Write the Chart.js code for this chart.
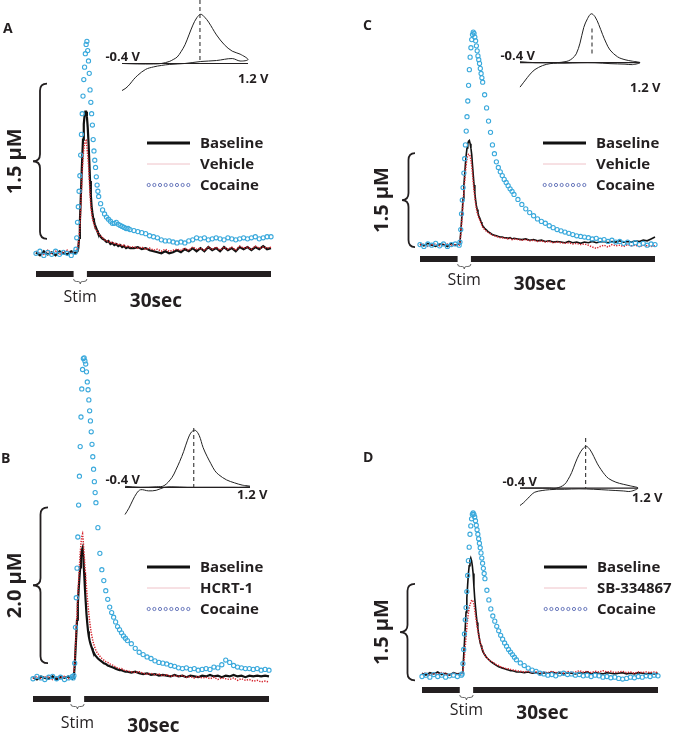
<!DOCTYPE html>
<html>
<head>
<meta charset="utf-8">
<script src="https://cdn.jsdelivr.net/npm/chart.js@4.4.1/dist/chart.umd.min.js"></script>
<style>
  html, body { margin: 0; padding: 0; background: #fff; }
  #fig { position: relative; width: 679px; height: 738px; overflow: hidden; background: #fff; }
  #fig canvas { position: absolute; }
</style>
</head>
<body>
<div id="fig"></div>
<script>
// time base in seconds, denser around the stimulation
const time = [
  0, 0.5, 1, 1.5, 2, 2.5, 3, 3.5, 4, 4.5, 5,
  5.1, 5.2, 5.3, 5.4, 5.5, 5.6, 5.7, 5.8, 5.9, 6, 6.1, 6.2, 6.3, 6.4, 6.5, 6.6, 6.7, 6.8, 6.9, 7, 7.1, 7.2, 7.3, 7.4, 7.5, 7.6, 7.7, 7.8, 7.9, 8,
  8.25, 8.5, 8.75, 9, 9.25, 9.5, 9.75, 10, 10.25, 10.5, 10.75, 11, 11.25, 11.5, 11.75, 12,
  12.5, 13, 13.5, 14, 14.5, 15, 15.5, 16, 16.5, 17, 17.5, 18, 18.5, 19, 19.5, 20, 20.5, 21,
  21.5, 22, 22.5, 23, 23.5, 24, 24.5, 25, 25.5, 26, 26.5, 27, 27.5, 28, 28.5, 29, 29.5, 30
];
const stimStart = 4.8;
const stimEnd = 6.5;
const barEnd = 30;

// dopamine concentration (uM) -- panel A
const baselineA = [
  0.01, -0.02, 0.02, -0.01, 0.01, -0.02, 0.02, 0, -0.01, 0.02, 0,
  0, 0.01, 0.02, 0.05, 0.15, 0.3, 0.5, 0.72, 0.92, 1.1, 1.25, 1.33, 1.37, 1.37, 1.32, 1.22, 1.08, 0.9, 0.7, 0.56, 0.45, 0.39, 0.34, 0.31, 0.28, 0.26, 0.24, 0.22, 0.2, 0.19,
  0.16, 0.14, 0.13, 0.11, 0.12, 0.09, 0.1, 0.08, 0.09, 0.07, 0.08, 0.06, 0.07, 0.05, 0.06, 0.05,
  0.05, 0.06, 0.04, 0.05, 0.03, 0.02, 0.01, 0, 0.02, 0, 0.01, 0.03, 0.01, 0.04, 0.02, 0.05, 0.02, 0.05,
  0.02, 0.06, 0.03, 0.05, 0.02, 0.06, 0.03, 0.05, 0.02, 0.06, 0.04, 0.06, 0.03, 0.06, 0.04, 0.07, 0.04, 0.05
];
const vehicleA = [
  0.02, 0, -0.01, 0.03, 0, 0.02, -0.01, 0.01, 0.03, 0, 0.02,
  0.02, 0.03, 0.05, 0.08, 0.15, 0.25, 0.42, 0.6, 0.78, 0.92, 1.01, 1.06, 1.08, 1.09, 1.03, 0.95, 0.86, 0.72, 0.57, 0.46, 0.39, 0.34, 0.31, 0.28, 0.26, 0.24, 0.23, 0.21, 0.2, 0.19,
  0.17, 0.15, 0.13, 0.12, 0.12, 0.1, 0.11, 0.09, 0.1, 0.08, 0.09, 0.07, 0.08, 0.06, 0.07, 0.06,
  0.06, 0.05, 0.06, 0.04, 0.05, 0.03, 0.04, 0.02, 0.04, 0.02, 0.03, 0.04, 0.03, 0.05, 0.03, 0.06, 0.04, 0.05,
  0.03, 0.06, 0.04, 0.06, 0.03, 0.06, 0.04, 0.06, 0.03, 0.07, 0.05, 0.06, 0.04, 0.07, 0.05, 0.06, 0.05, 0.06
];
const cocaineA = [
  0, 0.02, -0.02, 0.01, -0.01, 0.02, -0.01, 0.01, 0, -0.02, 0.01,
  0.04, 0.15, 0.3, 0.45, 0.6, 0.75, 0.95, 1.15, 1.35, 1.52, 1.68, 1.8, 1.93, 2.02, 2.05, 1.96, 1.86, 1.74, 1.58, 1.46, 1.35, 1.24, 1.1, 0.99, 0.9, 0.83, 0.74, 0.66, 0.6, 0.55,
  0.48, 0.42, 0.38, 0.35, 0.33, 0.31, 0.29, 0.29, 0.3, 0.28, 0.27, 0.26, 0.25, 0.24, 0.24, 0.23,
  0.22, 0.21, 0.2, 0.19, 0.17, 0.16, 0.15, 0.13, 0.12, 0.12, 0.11, 0.1, 0.11, 0.1, 0.12, 0.13, 0.15, 0.14,
  0.15, 0.13, 0.14, 0.15, 0.14, 0.13, 0.15, 0.14, 0.13, 0.14, 0.15, 0.14, 0.15, 0.16, 0.14, 0.15, 0.16, 0.16
];

// panel B
const baselineB = [
  0.01, -0.02, 0.02, 0, -0.01, 0.02, -0.02, 0.01, 0, 0.02, -0.01,
  0, 0.03, 0.15, 0.35, 0.55, 0.75, 0.95, 1.13, 1.28, 1.42, 1.56, 1.64, 1.67, 1.55, 1.35, 1.15, 0.98, 0.82, 0.7, 0.6, 0.53, 0.48, 0.44, 0.41, 0.38, 0.35, 0.33, 0.31, 0.29, 0.28,
  0.25, 0.23, 0.21, 0.19, 0.18, 0.16, 0.15, 0.14, 0.13, 0.12, 0.11, 0.1, 0.1, 0.09, 0.08, 0.08,
  0.07, 0.08, 0.06, 0.05, 0.06, 0.04, 0.05, 0.03, 0.04, 0.03, 0.02, 0.04, 0.02, 0.03, 0.01, 0.03, 0.02, 0.01,
  0.03, 0.02, 0.04, 0.02, 0.03, 0.01, 0.03, 0.02, 0.04, 0.02, 0.03, 0.01, 0.03, 0.02, 0.03, 0.02, 0.03, 0.02
];
const hcrtB = [
  0, 0.02, -0.01, 0.01, 0.02, -0.02, 0.01, 0, 0.02, -0.01, 0.01,
  0.02, 0.06, 0.2, 0.4, 0.62, 0.84, 1.05, 1.25, 1.43, 1.6, 1.73, 1.82, 1.85, 1.74, 1.58, 1.44, 1.3, 1.16, 1.03, 0.92, 0.82, 0.73, 0.65, 0.58, 0.53, 0.48, 0.44, 0.41, 0.38, 0.35,
  0.31, 0.28, 0.25, 0.23, 0.21, 0.2, 0.18, 0.17, 0.16, 0.14, 0.13, 0.12, 0.12, 0.1, 0.1, 0.09,
  0.08, 0.07, 0.08, 0.06, 0.05, 0.06, 0.04, 0.05, 0.03, 0.04, 0.02, 0.03, 0.02, 0.03, 0.01, 0.02, 0, 0.02,
  0, 0.01, -0.01, 0.01, -0.02, 0, -0.01, -0.02, 0, -0.03, -0.01, -0.03, -0.02, -0.04, -0.03, -0.05, -0.04, -0.05
];
const cocaineB = [
  -0.01, 0.02, 0, -0.02, 0.01, 0.02, -0.01, 0.01, -0.02, 0, 0.02,
  0, 0.03, 0.19, 0.65, 1.03, 1.41, 1.81, 2.22, 2.59, 2.97, 3.35, 3.71, 3.96, 4.1, 4.11, 4.07, 4.03, 3.93, 3.8, 3.7, 3.57, 3.43, 3.3, 3.16, 3, 2.84, 2.68, 2.52, 2.38, 2.25,
  1.93, 1.6, 1.39, 1.25, 1.12, 1.01, 0.91, 0.84, 0.78, 0.72, 0.66, 0.62, 0.58, 0.54, 0.51, 0.48,
  0.44, 0.38, 0.33, 0.3, 0.27, 0.25, 0.22, 0.2, 0.19, 0.18, 0.16, 0.15, 0.13, 0.12, 0.13, 0.11, 0.12, 0.1,
  0.11, 0.12, 0.11, 0.14, 0.13, 0.17, 0.23, 0.2, 0.16, 0.14, 0.13, 0.12, 0.12, 0.11, 0.12, 0.1, 0.11, 0.1
];

// panel C
const baselineC = [
  0.02, -0.01, 0.03, 0, -0.02, 0.02, 0.01, -0.02, 0.03, 0, 0.02,
  0.05, 0.2, 0.38, 0.55, 0.75, 0.95, 1.12, 1.3, 1.44, 1.55, 1.62, 1.66, 1.67, 1.62, 1.55, 1.45, 1.28, 1.12, 0.96, 0.83, 0.72, 0.63, 0.57, 0.52, 0.47, 0.44, 0.41, 0.37, 0.34, 0.31,
  0.27, 0.24, 0.21, 0.19, 0.17, 0.16, 0.15, 0.14, 0.13, 0.13, 0.12, 0.12, 0.11, 0.12, 0.1, 0.11,
  0.1, 0.09, 0.1, 0.08, 0.09, 0.07, 0.08, 0.06, 0.07, 0.05, 0.06, 0.05, 0.04, 0.06, 0.04, 0.05, 0.03, 0.05,
  0.04, 0.06, 0.04, 0.05, 0.06, 0.04, 0.06, 0.05, 0.07, 0.05, 0.06, 0.05, 0.07, 0.06, 0.08, 0.07, 0.1, 0.13
];
const vehicleC = [
  0, 0.02, -0.02, 0.01, 0.02, -0.01, 0, 0.02, -0.01, 0.01, 0,
  0.04, 0.17, 0.33, 0.5, 0.68, 0.86, 1.02, 1.17, 1.29, 1.38, 1.43, 1.45, 1.45, 1.42, 1.36, 1.27, 1.14, 1, 0.87, 0.76, 0.66, 0.58, 0.52, 0.48, 0.44, 0.41, 0.38, 0.35, 0.32, 0.29,
  0.25, 0.22, 0.2, 0.18, 0.16, 0.15, 0.14, 0.13, 0.12, 0.12, 0.11, 0.11, 0.1, 0.11, 0.09, 0.1,
  0.09, 0.08, 0.09, 0.07, 0.08, 0.06, 0.07, 0.05, 0.06, 0.04, 0.05, 0.04, 0.03, 0.04, 0.02, 0.03, 0.01, 0.02,
  0, -0.03, -0.05, -0.02, 0, -0.03, 0.01, -0.01, 0, -0.02, 0.01, -0.01, 0, -0.02, 0, -0.01, -0.02, -0.01
];
const cocaineC = [
  0.01, -0.02, 0.02, 0, 0.03, -0.01, 0.02, -0.02, 0.01, 0.02, 0,
  0.05, 0.25, 0.5, 0.72, 0.92, 1.15, 1.38, 1.6, 1.82, 2.05, 2.3, 2.55, 2.8, 3, 3.15, 3.28, 3.36, 3.4, 3.38, 3.32, 3.26, 3.18, 3.1, 3.02, 2.96, 2.9, 2.82, 2.74, 2.67, 2.6,
  2.4, 2.19, 1.98, 1.8, 1.6, 1.46, 1.33, 1.24, 1.17, 1.11, 1.05, 1, 0.95, 0.9, 0.86, 0.81,
  0.73, 0.65, 0.58, 0.52, 0.47, 0.42, 0.38, 0.35, 0.31, 0.28, 0.25, 0.23, 0.21, 0.19, 0.17, 0.15, 0.14, 0.13,
  0.12, 0.1, 0.11, 0.08, 0.09, 0.06, 0.08, 0.05, 0.06, 0.03, 0.05, 0.02, 0.04, 0.01, 0.03, 0, 0.02, 0.01
];

// panel D
const baselineD = [
  0.03, 0, 0.04, 0.02, 0.05, 0.01, 0.03, 0, 0.04, 0.02, 0.03,
  0.03, 0.1, 0.3, 0.52, 0.75, 0.98, 1.2, 1.4, 1.58, 1.7, 1.78, 1.82, 1.78, 1.7, 1.58, 1.38, 1.2, 1.06, 0.93, 0.82, 0.73, 0.64, 0.57, 0.5, 0.46, 0.42, 0.39, 0.36, 0.33, 0.31,
  0.27, 0.24, 0.21, 0.19, 0.17, 0.15, 0.13, 0.12, 0.11, 0.1, 0.09, 0.08, 0.07, 0.07, 0.06, 0.05,
  0.05, 0.04, 0.05, 0.03, 0.04, 0.02, 0.04, 0.03, 0.05, 0.03, 0.04, 0.02, 0.04, 0.03, 0.02, 0.04, 0.03, 0.05,
  0.02, 0.04, 0.03, 0.02, 0.04, 0.03, 0.02, 0.03, 0.04, 0.02, 0.03, 0.02, 0.04, 0.03, 0.02, 0.03, 0.02, 0.03
];
const sbD = [
  0.01, 0.04, 0, 0.03, 0.01, 0.04, 0.02, 0, 0.03, 0.01, 0.02,
  0.02, 0.06, 0.15, 0.3, 0.45, 0.6, 0.75, 0.87, 0.97, 1.05, 1.1, 1.13, 1.16, 1.17, 1.14, 1.1, 1.02, 0.93, 0.85, 0.76, 0.69, 0.62, 0.56, 0.52, 0.47, 0.43, 0.39, 0.36, 0.33, 0.31,
  0.27, 0.24, 0.22, 0.2, 0.18, 0.16, 0.15, 0.13, 0.12, 0.11, 0.1, 0.1, 0.09, 0.08, 0.08, 0.07,
  0.06, 0.05, 0.06, 0.04, 0.05, 0.03, 0.05, 0.04, 0.06, 0.04, 0.05, 0.03, 0.06, 0.04, 0.05, 0.07, 0.05, 0.06,
  0.04, 0.06, 0.05, 0.07, 0.05, 0.06, 0.04, 0.05, 0.06, 0.04, 0.05, 0.03, 0.05, 0.04, 0.05, 0.04, 0.05, 0.04
];
const cocaineD = [
  -0.02, 0, -0.03, 0.01, -0.02, 0, -0.03, -0.01, 0, -0.02, 0,
  0.02, 0.18, 0.4, 0.64, 0.86, 1.05, 1.3, 1.55, 1.78, 1.99, 2.19, 2.32, 2.43, 2.5, 2.52, 2.5, 2.46, 2.4, 2.33, 2.26, 2.19, 2.12, 2.05, 1.98, 1.9, 1.82, 1.74, 1.66, 1.58, 1.5,
  1.32, 1.17, 1.03, 0.92, 0.84, 0.76, 0.69, 0.62, 0.56, 0.5, 0.45, 0.4, 0.36, 0.32, 0.28, 0.24,
  0.19, 0.15, 0.11, 0.08, 0.06, 0.03, 0.02, 0, 0.01, -0.01, 0.02, 0.03, 0.01, 0.02, 0, 0.01, -0.01, 0,
  -0.02, 0, -0.01, -0.03, -0.02, -0.04, -0.03, -0.05, -0.06, -0.05, -0.03, -0.04, -0.02, -0.03, -0.01, -0.02, 0, -0.01
];

// cyclic voltammograms: applied potential (V) and normalised current
const cvVolt = [
  -0.4, -0.2, 0, 0.1, 0.2, 0.25, 0.3, 0.35, 0.4, 0.45, 0.5, 0.55, 0.6, 0.65, 0.7, 0.75, 0.8, 0.9, 1.0, 1.1, 1.2,
  1.1, 1.0, 0.8, 0.6, 0.4, 0.2, 0.1, 0, -0.1, -0.2, -0.25, -0.3, -0.35, -0.4
];
const cvA = [
  0, -0.01, -0.01, 0, 0.04, 0.08, 0.13, 0.24, 0.38, 0.58, 0.78, 0.93, 1.0, 0.94, 0.84, 0.71, 0.58, 0.38, 0.25, 0.19, 0.08,
  0.05, 0.1, 0.06, 0.04, 0, -0.02, -0.04, -0.07, -0.12, -0.24, -0.32, -0.42, -0.5, -0.55
];
const cvB = [
  0.02, 0, 0.01, 0.03, 0.17, 0.3, 0.45, 0.62, 0.82, 0.96, 0.99, 0.9, 0.69, 0.54, 0.41, 0.29, 0.22, 0.13, 0.08, 0.04, 0.02,
  0, 0, 0, 0, 0, 0.01, 0, -0.05, -0.06, -0.04, -0.1, -0.22, -0.36, -0.47
];
const cvC = [
  0.02, 0, 0, 0, 0.02, 0.04, 0.09, 0.18, 0.4, 0.72, 0.9, 1.0, 0.94, 0.78, 0.58, 0.4, 0.26, 0.12, 0.06, 0.03, 0,
  -0.04, -0.03, -0.02, 0, 0, -0.01, -0.01, -0.02, -0.06, -0.14, -0.21, -0.3, -0.4, -0.5
];
const cvD = [
  0, 0, 0, 0, 0.08, 0.2, 0.37, 0.6, 0.8, 0.94, 1.0, 0.92, 0.76, 0.58, 0.44, 0.32, 0.23, 0.14, 0.09, 0.05, 0,
  -0.08, -0.07, -0.05, -0.03, -0.02, -0.03, -0.03, -0.04, -0.06, -0.1, -0.17, -0.26, -0.35, -0.42
];
const cvPeakVolt = [0.59, 0.48, 0.56, 0.49]; // A, B, C, D
const cvAxisLabels = ["-0.4 V", "1.2 V"];

// text
const panelLetters = ["A", "B", "C", "D"];
const scaleLabels = ["1.5 \u00b5M", "2.0 \u00b5M", "1.5 \u00b5M", "1.5 \u00b5M"];
const legendA = ["Baseline", "Vehicle", "Cocaine"];
const legendB = ["Baseline", "HCRT-1", "Cocaine"];
const legendC = ["Baseline", "Vehicle", "Cocaine"];
const legendD = ["Baseline", "SB-334867", "Cocaine"];
const stimLabel = "Stim";
const timeLabel = "30sec";

const INK = "#231f20";
const RED = "#d5252e";
const COCAINE_BLUE = "#3aa9dc";
const LEGEND_BLUE = "#5b6cb5";
const FONT = "'Open Sans', 'Noto Sans', sans-serif";

const panels = [
  { box: [0, 0, 340, 320], pad: { left: 36, right: 69, top: 0, bottom: 46 }, yMin: -0.2, yMax: 2.4,
    series: [baselineA, vehicleA, cocaineA], legend: legendA, lineWidth: 2.2,
    brace: [0.14, 1.64], braceX: [11, -3], labelX: -21, letter: [3, 33], legendPos: [147, 143], stimDy: 28, secDy: 33,
    inset: { box: [92, 0, 186, 113], pad: { left: 30, right: 30, top: 0, bottom: 20 }, yMin: -0.6, yMax: 1.29,
      cur: cvA, dash: [1.29, 0], lo: [18, -2], hi: [-10, 20] } },
  { box: [0, 320, 340, 418], pad: { left: 33, right: 71, top: 0, bottom: 39 }, yMin: -0.27, yMax: 4.53,
    series: [baselineB, hcrtB, cocaineB], legend: legendB, lineWidth: 2.2,
    brace: [0.19, 2.19], braceX: [15, 0], labelX: -18, letter: [1, 143], legendPos: [147, 247], stimDy: 29, secDy: 33,
    inset: { box: [95, 418, 185, 124], pad: { left: 30, right: 30, top: 6, bottom: 20 }, yMin: -0.6, yMax: 1.1,
      cur: cvB, dash: [1.03, 0], lo: [15, -3], hi: [-13, 12] } },
  { box: [340, 0, 339, 320], pad: { left: 80, right: 24, top: 0, bottom: 61 }, yMin: -0.22, yMax: 3.83,
    series: [baselineC, vehicleC, cocaineC], legend: legendC, lineWidth: 1.6,
    brace: [-0.03, 1.47], braceX: [-5, -18], labelX: -38, letter: [23, 30], legendPos: [203, 143], stimDy: 26, secDy: 31,
    inset: { box: [490, 0, 180, 112], pad: { left: 30, right: 30, top: 4, bottom: 20 }, yMin: -0.6, yMax: 1.2,
      cur: cvC, dash: [0.7, 0.15], lo: [15, -3], hi: [-10, 29] } },
  { box: [340, 320, 339, 418], pad: { left: 82, right: 21, top: 0, bottom: 48 }, yMin: -0.23, yMax: 5.44,
    series: [baselineD, sbD, cocaineD], legend: legendD, lineWidth: 1.6,
    brace: [-0.08, 1.42], braceX: [-7, -22], labelX: -40, letter: [23, 142], legendPos: [204, 247], stimDy: 25, secDy: 29,
    inset: { box: [490, 430, 178, 103], pad: { left: 30, right: 30, top: 6, bottom: 20 }, yMin: -0.6, yMax: 1.25,
      cur: cvD, dash: [1.2, 0], lo: [17, -2], hi: [-6, 14] } },
];

const fig = document.getElementById("fig");

function addCanvas(box) {
  const c = document.createElement("canvas");
  c.width = box[2];
  c.height = box[3];
  c.style.left = box[0] + "px";
  c.style.top = box[1] + "px";
  c.style.width = box[2] + "px";
  c.style.height = box[3] + "px";
  fig.appendChild(c);
  return c;
}

const tracePoints = (ys) => time.map((t, i) => ({ x: t, y: ys[i] }));

function drawBrace(ctx, xRight, xTip, yTop, yBot) {
  const xs = (xRight + xTip) / 2;
  const ym = (yTop + yBot) / 2;
  const r = 7;
  ctx.beginPath();
  ctx.moveTo(xRight, yTop);
  ctx.quadraticCurveTo(xs, yTop, xs, yTop + r);
  ctx.lineTo(xs, ym - r);
  ctx.quadraticCurveTo(xs, ym, xTip, ym);
  ctx.quadraticCurveTo(xs, ym, xs, ym + r);
  ctx.lineTo(xs, yBot - r);
  ctx.quadraticCurveTo(xs, yBot, xRight, yBot);
  ctx.stroke();
}

function panelDecor(p, idx) {
  return {
    id: "panelDecor",
    afterDatasetsDraw(chart) {
      const { ctx, scales: { x, y } } = chart;
      const x0 = x.getPixelForValue(0);
      const x1 = x.getPixelForValue(barEnd);
      const g0 = x.getPixelForValue(stimStart);
      const g1 = x.getPixelForValue(stimEnd);
      const gm = (g0 + g1) / 2;
      const yBar = y.getPixelForValue(p.yMin);
      ctx.save();

      // time bar, broken at the stimulation
      ctx.fillStyle = INK;
      ctx.fillRect(x0, yBar - 3, g0 - x0, 6);
      ctx.fillRect(g1, yBar - 3, x1 - g1, 6);

      // small brace under the stim gap
      ctx.strokeStyle = "#555";
      ctx.lineWidth = 0.9;
      const by = yBar + 5;
      ctx.beginPath();
      ctx.moveTo(g0, by);
      ctx.quadraticCurveTo(g0, by + 2.5, g0 + 3, by + 2.5);
      ctx.lineTo(gm - 2, by + 2.5);
      ctx.quadraticCurveTo(gm, by + 2.5, gm, by + 5);
      ctx.quadraticCurveTo(gm, by + 2.5, gm + 2, by + 2.5);
      ctx.lineTo(g1 - 3, by + 2.5);
      ctx.quadraticCurveTo(g1, by + 2.5, g1, by);
      ctx.stroke();

      ctx.fillStyle = INK;
      ctx.textAlign = "center";
      ctx.textBaseline = "alphabetic";
      ctx.font = "16px " + FONT;
      ctx.fillText(stimLabel, gm, yBar + p.stimDy);
      ctx.font = "bold 19px " + FONT;
      ctx.fillText(timeLabel, x.getPixelForValue(15.3), yBar + p.secDy);

      // panel letter
      ctx.textAlign = "left";
      ctx.font = "bold 14px " + FONT;
      ctx.fillText(panelLetters[idx], p.letter[0], p.letter[1]);

      // concentration brace and label
      const yTop = y.getPixelForValue(p.brace[1]);
      const yBot = y.getPixelForValue(p.brace[0]);
      ctx.strokeStyle = INK;
      ctx.lineWidth = 1.8;
      drawBrace(ctx, x0 + p.braceX[0], x0 + p.braceX[1], yTop, yBot);
      ctx.save();
      ctx.translate(x0 + p.labelX, (yTop + yBot) / 2);
      ctx.rotate(-Math.PI / 2);
      ctx.textAlign = "center";
      ctx.textBaseline = "middle";
      ctx.font = "bold 20px " + FONT;
      ctx.fillText(scaleLabels[idx], 0, 0);
      ctx.restore();

      // legend
      const [lx, ly] = p.legendPos;
      const len = 43;
      ctx.strokeStyle = "#111";
      ctx.lineWidth = 3.2;
      ctx.beginPath();
      ctx.moveTo(lx, ly);
      ctx.lineTo(lx + len, ly);
      ctx.stroke();
      ctx.strokeStyle = "#efc2c8";
      ctx.lineWidth = 1;
      ctx.beginPath();
      ctx.moveTo(lx, ly + 21);
      ctx.lineTo(lx + len, ly + 21);
      ctx.stroke();
      ctx.strokeStyle = LEGEND_BLUE;
      ctx.lineWidth = 0.9;
      for (let k = 0; k < 8; k++) {
        ctx.beginPath();
        ctx.arc(lx + 1.7 + k * (len - 3.4) / 7, ly + 42, 1.6, 0, Math.PI * 2);
        ctx.stroke();
      }
      ctx.fillStyle = INK;
      ctx.font = "bold 15px " + FONT;
      ctx.textAlign = "left";
      ctx.textBaseline = "middle";
      p.legend.forEach((label, k) => ctx.fillText(label, lx + 53, ly + k * 21 + 1));

      ctx.restore();
    },
  };
}

function insetDecor(p, idx) {
  return {
    id: "insetDecor",
    afterDatasetsDraw(chart) {
      const { ctx, scales: { x, y } } = chart;
      const xl = x.getPixelForValue(cvVolt[0]);
      const xr = x.getPixelForValue(cvVolt[20]);
      const y0 = y.getPixelForValue(0);
      ctx.save();
      ctx.strokeStyle = INK;
      ctx.lineWidth = 1.2;
      ctx.beginPath();
      ctx.moveTo(xl, y0);
      ctx.lineTo(xr, y0);
      ctx.stroke();

      const xp = x.getPixelForValue(cvPeakVolt[idx]);
      ctx.strokeStyle = "#333";
      ctx.lineWidth = 1.1;
      ctx.setLineDash([4, 3]);
      ctx.beginPath();
      ctx.moveTo(xp, y.getPixelForValue(p.dash[0]));
      ctx.lineTo(xp, y.getPixelForValue(p.dash[1]));
      ctx.stroke();
      ctx.setLineDash([]);

      ctx.fillStyle = INK;
      ctx.font = "bold 13px " + FONT;
      ctx.textBaseline = "alphabetic";
      ctx.textAlign = "right";
      ctx.fillText(cvAxisLabels[0], xl + p.lo[0], y0 + p.lo[1]);
      ctx.textAlign = "left";
      ctx.fillText(cvAxisLabels[1], xr + p.hi[0], y0 + p.hi[1]);
      ctx.restore();
    },
  };
}

const baseOptions = {
  responsive: false,
  animation: false,
  devicePixelRatio: 1,
  events: [],
  plugins: { legend: { display: false }, tooltip: { enabled: false } },
};

panels.forEach((p, idx) => {
  const canvas = addCanvas(p.box);
  new Chart(canvas, {
    type: "line",
    data: {
      datasets: [
        {
          label: p.legend[2],
          data: tracePoints(p.series[2]),
          showLine: false,
          pointRadius: 2.1,
          pointBorderWidth: 1.1,
          pointBorderColor: COCAINE_BLUE,
          pointBackgroundColor: "rgba(255,255,255,0)",
          clip: false,
          order: 0,
        },
        {
          label: p.legend[1],
          data: tracePoints(p.series[1]),
          borderColor: RED,
          borderWidth: 1.5,
          borderDash: [1.3, 1.3],
          pointRadius: 0,
          clip: false,
          order: 1,
        },
        {
          label: p.legend[0],
          data: tracePoints(p.series[0]),
          borderColor: "#111",
          borderWidth: p.lineWidth,
          pointRadius: 0,
          clip: false,
          order: 2,
        },
      ],
    },
    options: {
      ...baseOptions,
      layout: { padding: p.pad },
      elements: { line: { tension: 0 } },
      scales: {
        x: { type: "linear", min: 0, max: barEnd, display: false },
        y: { type: "linear", min: p.yMin, max: p.yMax, display: false },
      },
    },
    plugins: [panelDecor(p, idx)],
  });

  const q = p.inset;
  const insetCanvas = addCanvas(q.box);
  new Chart(insetCanvas, {
    type: "scatter",
    data: {
      datasets: [
        {
          data: cvVolt.map((v, i) => ({ x: v, y: q.cur[i] })),
          showLine: true,
          borderColor: "#222",
          borderWidth: 1,
          pointRadius: 0,
          tension: 0.35,
          clip: false,
        },
      ],
    },
    options: {
      ...baseOptions,
      layout: { padding: q.pad },
      scales: {
        x: { type: "linear", min: -0.4, max: 1.2, display: false },
        y: { type: "linear", min: q.yMin, max: q.yMax, display: false },
      },
    },
    plugins: [insetDecor(q, idx)],
  });
});
</script>
</body>
</html>
